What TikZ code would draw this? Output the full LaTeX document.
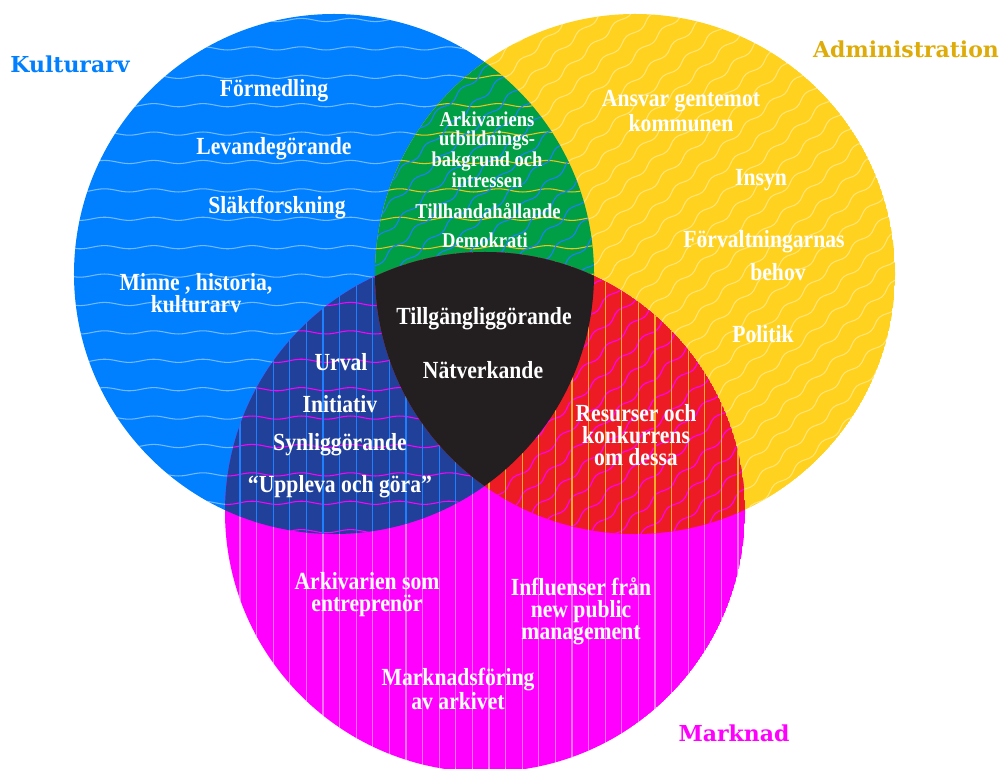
\documentclass[tikz,border=0pt]{standalone}
\usepackage{fontspec}
\setmainfont{Liberation Serif}[FakeStretch=0.88]
\newfontfamily\catfont{DejaVu Serif}
\usetikzlibrary{decorations.pathmorphing}

\definecolor{kblue}{RGB}{0,128,255}
\definecolor{ayellow}{RGB}{255,210,31}
\definecolor{mpink}{RGB}{255,0,255}
\definecolor{kagreen}{RGB}{0,159,69}
\definecolor{kmblue}{RGB}{33,64,154}
\definecolor{amred}{RGB}{237,28,36}
\definecolor{allblack}{RGB}{35,31,32}
\definecolor{agold}{RGB}{222,172,10}
\definecolor{wblue}{RGB}{30,128,255}
\definecolor{wyellow}{RGB}{235,196,30}
\definecolor{worange}{RGB}{255,170,40}

\tikzset{
  item/.style={text=white, font=\bfseries\fontsize{14}{12.5}\selectfont, align=center, inner sep=0pt},
  itemsmall/.style={item, font=\bfseries\fontsize{12}{10.8}\selectfont},
  catlabel/.style={font=\catfont\bfseries\fontsize{12.5}{14}\selectfont, inner sep=0pt},
  wave/.style={decorate, decoration={snake, amplitude=0.9pt, segment length=28pt}, line width=0.6pt},
  dwave/.style={decorate, decoration={snake, amplitude=1.3pt, segment length=18pt}, line width=0.6pt},
  vstripe/.style={line width=0.6pt},
}

% patterns of the three circles
\newcommand\hwaves[1]{\foreach \y in {20,48.4,...,770} \draw[wave,#1] (40,\y) -- (960,\y);}
\newcommand\dwaves[1]{\begin{scope}[shift={(635,274)},rotate=42]
    \foreach \k in {-16,...,16} \draw[dwave,#1] (-300,\k*18) -- (300,\k*18);
  \end{scope}}
\newcommand\vstripes[1]{\foreach \x in {223.4,240,...,760} \draw[vstripe,#1] (\x,0) -- (\x,769);}

\begin{document}
\begin{tikzpicture}[x=0.2mm,y=-0.2mm]
  \useasboundingbox (0,0) rectangle (1000,769);

  \coordinate (kc) at (334,274);
  \coordinate (ac) at (635,274);
  \coordinate (mc) at (485,512);

  % Kulturarv
  \begin{scope}
    \clip (kc) circle (52mm);
    \fill[kblue] (kc) circle (52mm);
    \hwaves{white, opacity=0.45}
  \end{scope}
  % Administration
  \begin{scope}
    \clip (ac) circle (52mm);
    \fill[ayellow] (ac) circle (52mm);
    \dwaves{white, opacity=0.4}
  \end{scope}
  % Marknad
  \begin{scope}
    \clip (mc) circle (52mm);
    \fill[mpink] (mc) circle (52mm);
    \vstripes{white, opacity=0.45}
  \end{scope}

  % overlaps
  \begin{scope}
    \clip (kc) circle (52mm);
    \clip (ac) circle (52mm);
    \fill[kagreen] (ac) circle (52mm);
    \hwaves{wyellow}
    \dwaves{wblue}
  \end{scope}
  \begin{scope}
    \clip (kc) circle (52mm);
    \clip (mc) circle (52mm);
    \fill[kmblue] (mc) circle (52mm);
    \hwaves{mpink}
    \vstripes{wblue}
  \end{scope}
  \begin{scope}
    \clip (ac) circle (52mm);
    \clip (mc) circle (52mm);
    \fill[amred] (mc) circle (52mm);
    \dwaves{mpink}
    \vstripes{worange}
  \end{scope}
  \begin{scope}
    \clip (kc) circle (52mm);
    \clip (ac) circle (52mm);
    \fill[allblack] (mc) circle (52mm);
  \end{scope}

  % category labels
  \node[catlabel, text=kblue] (kulturarv) at (70,64) {Kulturarv};
  \node[catlabel, text=agold] (administration) at (906,49) {Administration};
  \node[catlabel, text=mpink] (marknad) at (734,733) {Marknad};

  % Kulturarv
  \node[item] (formedling) at (274,91) {Förmedling};
  \node[item] (levande) at (274,149) {Levandegörande};
  \node[item] (slakt) at (277,208) {Släktforskning};
  \node[item] (minne) at (196,293) {Minne , historia,\\kulturarv};

  % Kulturarv + Administration
  \node[itemsmall] (arkivariens) at (487,150) {Arkivariens\\utbildnings-\\bakgrund och\\intressen};
  \node[itemsmall] (tillhanda) at (488,211) {Tillhandahållande};
  \node[itemsmall] (demokrati) at (485,240) {Demokrati};

  % Administration
  \node[item] (ansvar) at (681,111) {Ansvar gentemot\\kommunen};
  \node[item] (insyn) at (761,180) {Insyn};
  \node[item] (forvaltning) at (764,242) {Förvaltningarnas};
  \node[item] (behov) at (778,272) {behov};
  \node[item] (politik) at (763,334) {Politik};

  % all three
  \node[item] (tillgang) at (484,319) {Tillgängliggörande};
  \node[item] (natverk) at (483,370) {Nätverkande};

  % Kulturarv + Marknad
  \node[item] (urval) at (341,362) {Urval};
  \node[item] (initiativ) at (340,404) {Initiativ};
  \node[item] (synlig) at (340,445) {Synliggörande};
  \node[item] (uppleva) at (340,487) {“Uppleva och göra”};

  % Administration + Marknad
  \node[item] (resurser) at (636,435) {Resurser och\\konkurrens\\om dessa};

  % Marknad
  \node[item] (entrepr) at (367,595) {Arkivarien som\\entreprenör};
  \node[item] (marknadsf) at (458,689) {Marknadsföring\\av arkivet};
  \node[item] (influenser) at (581,611) {Influenser från\\new public\\management};
\end{tikzpicture}
\end{document}
